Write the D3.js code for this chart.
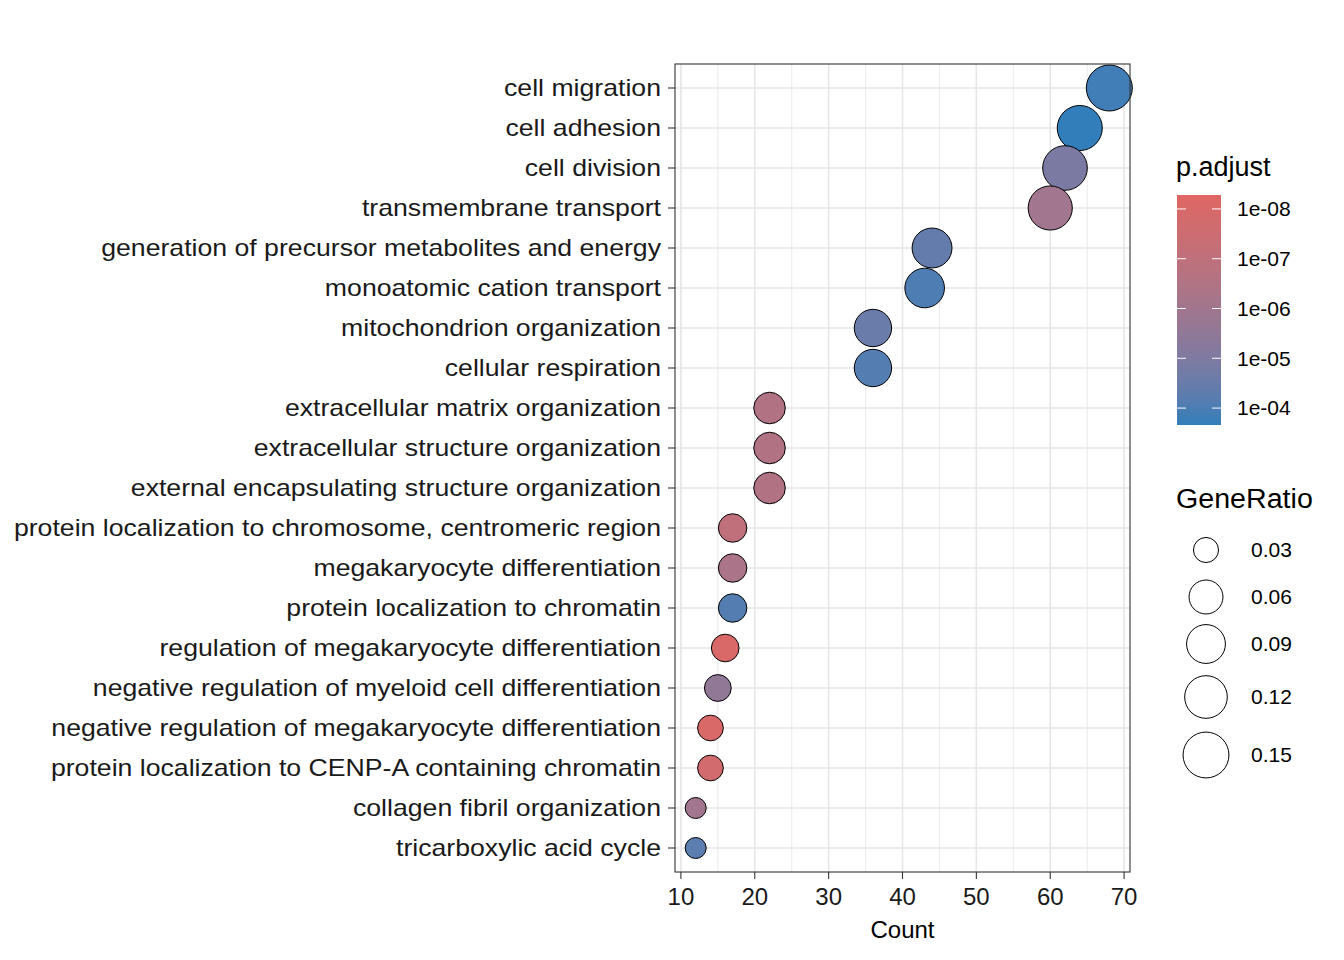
<!DOCTYPE html>
<html><head><meta charset="utf-8">
<script src="https://cdn.jsdelivr.net/npm/d3@7"></script>
<style>body{margin:0;background:#fff}text{font-family:"Liberation Sans",Arial,sans-serif}</style>
</head><body><svg id="c" width="1344" height="960"></svg>
<script>
const terms=["cell migration","cell adhesion","cell division","transmembrane transport","generation of precursor metabolites and energy","monoatomic cation transport","mitochondrion organization","cellular respiration","extracellular matrix organization","extracellular structure organization","external encapsulating structure organization","protein localization to chromosome, centromeric region","megakaryocyte differentiation","protein localization to chromatin","regulation of megakaryocyte differentiation","negative regulation of myeloid cell differentiation","negative regulation of megakaryocyte differentiation","protein localization to CENP-A containing chromatin","collagen fibril organization","tricarboxylic acid cycle"];
const counts=[68,64,62,60,44,43,36,36,22,22,22,17,17,17,16,15,14,14,12,12];
const padj=[1.5e-4,2.5e-4,1.2e-5,1e-6,4e-5,1e-4,3e-5,8e-5,3e-7,3e-7,3e-7,1e-7,5e-7,8e-5,1e-8,3e-6,1e-8,2e-8,1e-6,6e-5];
const totalGenes=450;
const xTicks=[10,20,30,40,50,60,70];
const sizeBreaks=[0.03,0.06,0.09,0.12,0.15];
const colTicks=[1e-8,1e-7,1e-6,1e-5,1e-4];
const ratio=counts.map(c=>c/totalGenes);

const svg=d3.select("#c");
const L=675,R=1130,T=64,B=872;
const x=d3.scaleLinear().domain([9.2,70.8]).range([L,R]);
const y=d3.scalePoint().domain(terms).range([T,B]).padding(0.6);
const rmin=d3.min(ratio),rmax=d3.max(ratio);
const rs=v=>10.5+12.5*Math.sqrt(Math.max(0,(v-rmin)/(rmax-rmin)));
const lg=d3.scaleLinear().domain([-8.28,-3.66]).range([0,1]);
const col=p=>d3.interpolateLab("#e06663","#327eba")(Math.max(0,Math.min(1,lg(Math.log10(p)))));
function stretch(sel,k){sel.each(function(){const w=this.getComputedTextLength();d3.select(this).attr("textLength",w*k).attr("lengthAdjust","spacingAndGlyphs");});}

const g=svg.append("g");
for(let v=5;v<=75;v+=5){if(x(v)>L&&x(v)<R)g.append("line").attr("x1",x(v)).attr("x2",x(v)).attr("y1",T).attr("y2",B).attr("stroke","#e6e6e6").attr("stroke-width",v%10==0?1.6:0.8);}
terms.forEach(t=>g.append("line").attr("x1",L).attr("x2",R).attr("y1",y(t)).attr("y2",y(t)).attr("stroke","#e6e6e6").attr("stroke-width",1.6));
terms.forEach((t,i)=>g.append("circle").attr("cx",x(counts[i])).attr("cy",y(t)).attr("r",rs(ratio[i])).attr("fill",col(padj[i])).attr("stroke","#000").attr("stroke-width",1));
g.append("rect").attr("x",L).attr("y",T).attr("width",R-L).attr("height",B-T).attr("fill","none").attr("stroke","#333").attr("stroke-width",1.1);
terms.forEach(t=>{g.append("line").attr("x1",L-7).attr("x2",L).attr("y1",y(t)).attr("y2",y(t)).attr("stroke","#333").attr("stroke-width",1.1);
 g.append("text").attr("x",L-14).attr("y",y(t)).attr("dy","0.35em").attr("text-anchor","end").attr("font-size",24).attr("fill","#1a1a1a").text(t).call(stretch,1.11);});
xTicks.forEach(v=>{g.append("line").attr("x1",x(v)).attr("x2",x(v)).attr("y1",B).attr("y2",B+7).attr("stroke","#333").attr("stroke-width",1.1);
 g.append("text").attr("x",x(v)).attr("y",B+25).attr("dy","0.35em").attr("text-anchor","middle").attr("font-size",24).attr("fill","#1a1a1a").text(v);});
g.append("text").attr("x",(L+R)/2).attr("y",930).attr("dy","0.35em").attr("text-anchor","middle").attr("font-size",24).text("Count");
// color legend
svg.append("text").attr("x",1176).attr("y",167).attr("dy","0.35em").attr("font-size",27).text("p.adjust");
const defs=svg.append("defs");const gr=defs.append("linearGradient").attr("id","gr").attr("x1",0).attr("x2",0).attr("y1",0).attr("y2",1);
d3.range(0,1.001,0.1).forEach(s=>gr.append("stop").attr("offset",s).attr("stop-color",d3.interpolateLab("#e06663","#327eba")(s)));
const cb=d3.scaleLinear().domain([-8.28,-3.66]).range([195,425]);
svg.append("rect").attr("x",1177).attr("y",195).attr("width",44).attr("height",230).attr("fill","url(#gr)");
colTicks.forEach(p=>{const yy=cb(Math.log10(p));
 svg.append("line").attr("x1",1177).attr("x2",1186).attr("y1",yy).attr("y2",yy).attr("stroke","#fff");
 svg.append("line").attr("x1",1212).attr("x2",1221).attr("y1",yy).attr("y2",yy).attr("stroke","#fff");
 svg.append("text").attr("x",1237).attr("y",yy).attr("dy","0.35em").attr("font-size",21).text(d3.format(".0e")(p).replace(/e-(\d)$/,"e-0$1"));});
// size legend
svg.append("text").attr("x",1176).attr("y",499).attr("dy","0.35em").attr("font-size",27).text("GeneRatio").call(stretch,1.06);
const sy=[550,597,644,697,755];
sizeBreaks.forEach((b,i)=>{svg.append("circle").attr("cx",1206).attr("cy",sy[i]).attr("r",rs(b)).attr("fill","none").attr("stroke","#000");
 svg.append("text").attr("x",1251).attr("y",sy[i]).attr("dy","0.35em").attr("font-size",21).text(b.toFixed(2));});
</script></body></html>
